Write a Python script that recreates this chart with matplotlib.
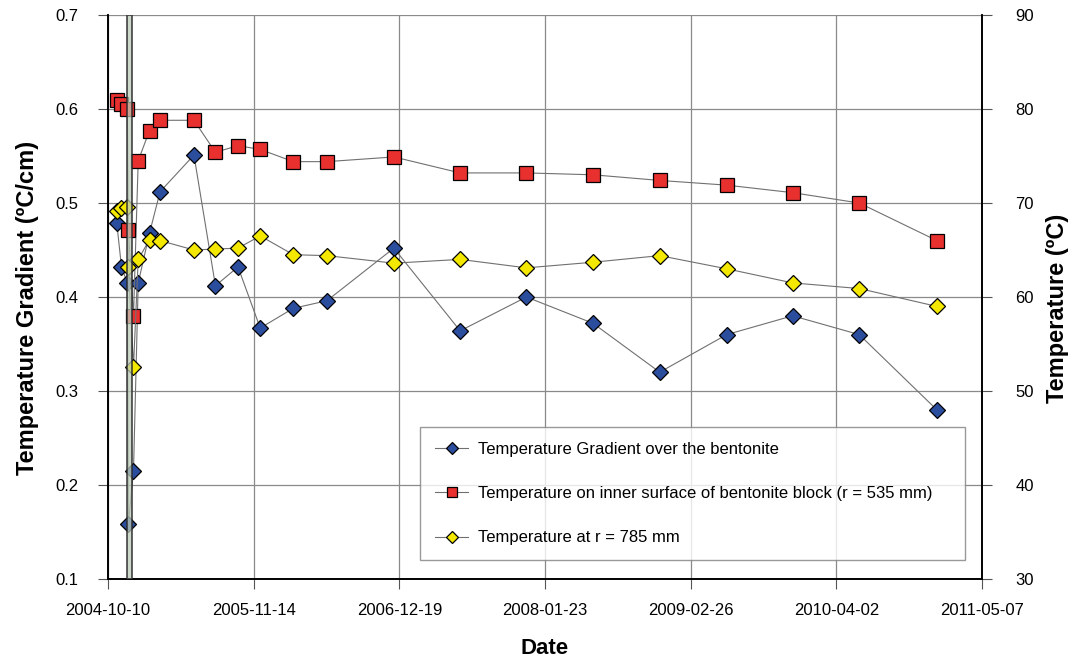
import datetime as dt
import matplotlib
matplotlib.use('Agg')
import matplotlib.pyplot as plt
import matplotlib.dates as mdates

plt.rcParams['font.family'] = ['Liberation Sans', 'DejaVu Sans']

# measurement dates (same for all three series)
dates = ['2004-11-03', '2004-11-16', '2004-12-02', '2004-12-05', '2004-12-19',
         '2005-01-01', '2005-02-01', '2005-03-02', '2005-06-03', '2005-08-01',
         '2005-10-02', '2005-12-02', '2006-03-03', '2006-06-03', '2006-12-04',
         '2007-06-04', '2007-12-03', '2008-06-03', '2008-12-03', '2009-06-05',
         '2009-12-03', '2010-06-04', '2011-01-03']

# temperature gradient (left axis, ºC/cm)
gradient = [0.479, 0.432, 0.415, 0.159, 0.215, 0.415, 0.468, 0.512, 0.551, 0.412,
            0.432, 0.367, 0.388, 0.396, 0.452, 0.364, 0.400, 0.372, 0.320, 0.360,
            0.380, 0.360, 0.280]

# temperature on inner surface r = 535 mm (right axis, ºC)
temp_inner = [81.0, 80.5, 80.0, 67.1, 58.0, 74.5, 77.7, 78.8, 78.8, 75.4,
              76.1, 75.7, 74.4, 74.4, 74.9, 73.2, 73.2, 73.0, 72.4, 71.9,
              71.1, 70.0, 66.0]

# temperature at r = 785 mm (right axis, ºC)
temp_outer = [69.1, 69.5, 69.6, 63.2, 52.6, 64.0, 66.1, 66.0, 65.0, 65.1,
              65.2, 66.5, 64.5, 64.4, 63.6, 64.0, 63.1, 63.7, 64.4, 63.0,
              61.5, 60.9, 59.0]

band_start = '2004-12-01'
band_end = '2004-12-15'

x_start = dt.date(2004, 10, 10)
x_end = dt.date(2011, 5, 7)

x = [dt.datetime.strptime(d, '%Y-%m-%d') for d in dates]

fig = plt.figure(figsize=(10.7, 6.62), dpi=100)
ax = fig.add_axes([108 / 1070, 1 - 579 / 662, 874 / 1070, 564 / 662])
ax2 = ax.twinx()

line_kw = dict(color='#707070', linewidth=0.8, markeredgecolor='black', markeredgewidth=0.9)
l1, = ax.plot(x, gradient, marker='D', markersize=8.5, markerfacecolor='#2B4D9E',
              label='Temperature Gradient over the bentonite', **line_kw)
l2, = ax2.plot(x, temp_inner, marker='s', markersize=9.5, markerfacecolor='#E8302F',
               label='Temperature on inner surface of bentonite block (r = 535 mm)', **line_kw)
l3, = ax2.plot(x, temp_outer, marker='D', markersize=8.5, markerfacecolor='#F5E800',
               label='Temperature at r = 785 mm', **line_kw)

# shaded period
ax2.axvspan(dt.datetime.strptime(band_start, '%Y-%m-%d'),
            dt.datetime.strptime(band_end, '%Y-%m-%d'),
            facecolor='#bccbb8', alpha=0.75, edgecolor='#2a2a2a', linewidth=1.4, zorder=10)

ax.set_xlim(x_start, x_end)
ax.set_ylim(0.1, 0.7)
ax2.set_ylim(30, 90)

ticks = [x_start + dt.timedelta(days=400 * i) for i in range(7)]
ax.set_xticks(ticks)
ax.xaxis.set_major_formatter(mdates.DateFormatter('%Y-%m-%d'))
ax.set_yticks([0.1, 0.2, 0.3, 0.4, 0.5, 0.6, 0.7])
ax.set_yticklabels(['0.1', '0.2', '0.3', '0.4', '0.5', '0.6', '0.7'])
ax2.set_yticks([30, 40, 50, 60, 70, 80, 90])

ax.grid(True, color='#8a8a8a', linewidth=0.9)
ax.set_axisbelow(True)

for a in (ax, ax2):
    a.spines['top'].set_visible(False)
    for s in ('left', 'right', 'bottom'):
        a.spines[s].set_color('black')
        a.spines[s].set_linewidth(1.2)
ax.tick_params(axis='both', direction='out', length=7, width=0.8, labelsize=12, color='#555555')
ax.tick_params(axis='x', pad=10)
ax.tick_params(axis='y', pad=14)
ax2.tick_params(axis='y', direction='out', length=7, width=0.8, labelsize=12, color='#555555', pad=17)

ax.set_xlabel('Date', fontsize=16, fontweight='bold')
ax.xaxis.set_label_coords(0.5, -0.105)
ax.set_ylabel('Temperature Gradient (ºC/cm)', fontsize=17, fontweight='bold')
ax.yaxis.set_label_coords(-0.079, 0.48)
ax2.set_ylabel('Temperature (ºC)', fontsize=17, fontweight='bold')
ax2.yaxis.set_label_coords(1.073, 0.48)

leg = ax2.legend(handles=[l1, l2, l3], loc='upper left',
                 bbox_to_anchor=(0.357, 0.0337, 0.6235, 0.2358), mode='expand',
                 fontsize=12, frameon=True, fancybox=False, handlelength=2.0,
                 handletextpad=0.6, labelspacing=1.75, borderpad=0.9, borderaxespad=0)
leg.get_frame().set_edgecolor('#808080')
leg.get_frame().set_linewidth(1.0)
for h in leg.legend_handles:
    h.set_markersize(6.5)
leg.set_zorder(20)

fig.savefig('out.png', dpi=100)
